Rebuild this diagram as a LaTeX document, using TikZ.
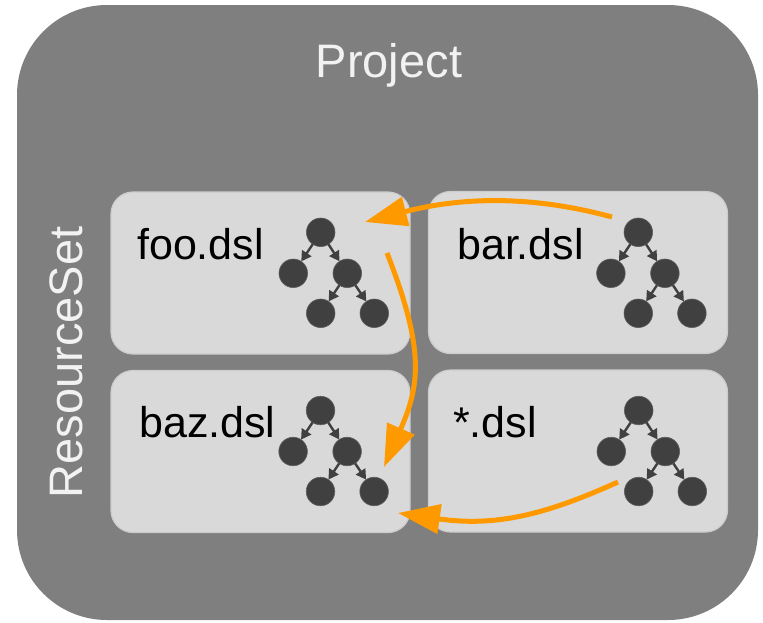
\documentclass[tikz,border=0pt]{standalone}
\usepackage{fontspec}
\setmainfont{Liberation Sans}
\usetikzlibrary{arrows.meta}
\definecolor{projgray}{HTML}{7F7F7F}
\definecolor{filegray}{HTML}{D9D9D9}
\definecolor{nodegray}{HTML}{404040}
\definecolor{titlewhite}{HTML}{F2F2F2}
\definecolor{deporange}{HTML}{FF9900}
\tikzset{
  project/.style={rectangle, fill=projgray, rounded corners=90pt,
    minimum width=741pt, minimum height=615pt, inner sep=0pt},
  filebox/.style={rectangle, fill=filegray, draw=black!20, line width=1.2pt,
    rounded corners=22pt, minimum width=299pt, minimum height=162pt, inner sep=0pt},
  title/.style={text=titlewhite, inner sep=0pt, font=\fontsize{47}{54}\selectfont},
  filelabel/.style={text=black, inner sep=0pt, anchor=base west,
    font=\fontsize{43}{50}\selectfont},
  astnode/.style={circle, fill=nodegray, draw=nodegray!80!filegray, line width=0.6pt,
    minimum size=28.6pt, inner sep=0pt, outer sep=0pt},
  astedge/.style={draw=nodegray, line width=2.4pt,
    -{Triangle[length=10pt,width=11pt]}},
  dep/.style={draw=deporange, line width=5pt,
    -{Triangle[length=42pt,width=29pt]}}
}
% a small syntax tree: root, two children, two grandchildren under the right child
\newcommand\dsltree[3]{%
  \node[astnode] (#1-r) at (#2,#3) {};
  \node[astnode] (#1-a) at (#2-27.4,#3+41) {};
  \node[astnode] (#1-b) at (#2+26.6,#3+41) {};
  \node[astnode] (#1-c) at (#2,#3+81) {};
  \node[astnode] (#1-d) at (#2+53.6,#3+81) {};
  \draw[astedge] (#1-r) -- (#1-a);
  \draw[astedge] (#1-r) -- (#1-b);
  \draw[astedge] (#1-b) -- (#1-c);
  \draw[astedge] (#1-b) -- (#1-d);
}
\begin{document}
\begin{tikzpicture}[x=1pt, y=-1pt]
\useasboundingbox (0,0) rectangle (763,622);

% project container and its labels
\node[project] (proj) at (387.5,312.5) {};
\node[title, anchor=base] (projtitle) at (389,77) {Project};
\node[title, anchor=base, rotate=90] (rstitle) at (82,362.5) {ResourceSet};

% resources
\node[filebox] (foo) at (260.5,273) {};
\node[filebox] (bar) at (578,272.5) {};
\node[filebox] (baz) at (260.5,451.5) {};
\node[filebox] (star) at (578,451) {};

\node[filelabel] (foolbl) at (137,259) {foo.dsl};
\node[filelabel] (barlbl) at (457,259) {bar.dsl};
\node[filelabel] (bazlbl) at (139,437.5) {baz.dsl};
\node[filelabel] (starlbl) at (453,437.5) {*.dsl};

\dsltree{ft}{320.7}{232.3}
\dsltree{bt}{638.3}{232.3}
\dsltree{zt}{320.5}{410.5}
\dsltree{st}{638.7}{410.5}

% cross references between resources
\coordinate (barout) at (612,217);
\coordinate (fooin) at (365,222);
\coordinate (fooout) at (387,253);
\coordinate (bazin) at (384,467);
\coordinate (starout) at (618,482);
\coordinate (bazin2) at (398,513);

\draw[dep] (barout) .. controls (520,192) and (450,200) .. (fooin);
\draw[dep] (fooout) .. controls (425,350) and (420,385) .. (bazin);
\draw[dep] (starout) .. controls (545,515) and (495,527) .. (bazin2);
\end{tikzpicture}
\end{document}
